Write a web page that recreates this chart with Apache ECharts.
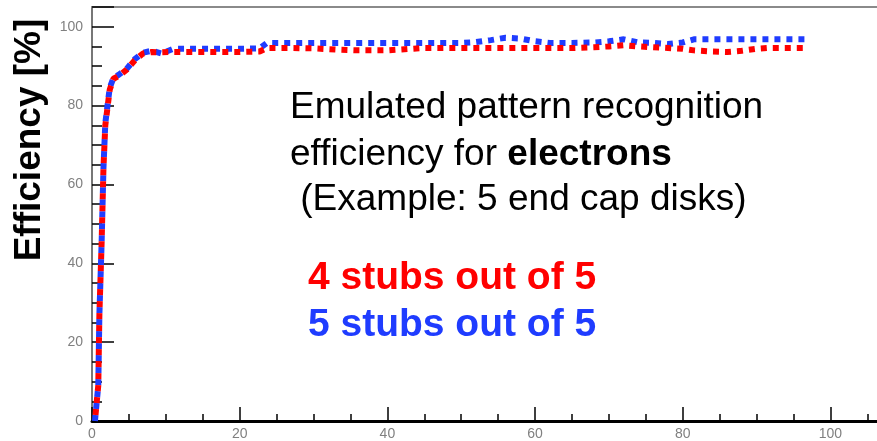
<!DOCTYPE html>
<html>
<head>
<meta charset="utf-8">
<script src="https://cdn.jsdelivr.net/npm/echarts@6/dist/echarts.min.js"></script>
<style>
  html, body { margin: 0; padding: 0; background: #fff; }
  #chart { width: 877px; height: 441px; }
</style>
</head>
<body>
<div id="chart"></div>
<script>
// Efficiency vs. x, sampled at these positions
const xValues = [0.4, 0.85, 1.0, 1.3, 1.55, 1.8, 2.4, 2.9, 3.6, 4.7, 5.8, 6.9, 8.1, 9.4, 11, 15, 20, 22.7, 23.7, 27,
  30, 33, 36, 40, 45, 50, 52, 54, 56, 58, 60, 62, 65, 68, 70, 72, 74, 76, 78, 80,
  81.5, 84, 86, 88, 90, 91.5, 94, 97];

// 4 stubs out of 5 (red)
const eff4of5 = [0, 9, 27, 45, 64, 75, 84, 86.8, 87.5, 89.1, 91.5, 93.2, 93.6, 93.5, 93.6, 93.6, 93.6, 93.7, 94.6, 94.6,
  94.5, 94.2, 94.0, 94.0, 94.6, 94.6, 94.6, 94.6, 94.6, 94.6, 94.6, 94.6, 94.6, 94.8, 95.0, 95.3, 95.0, 94.8, 94.6, 94.4,
  94.0, 93.7, 93.6, 93.9, 94.4, 94.6, 94.6, 94.6];

// 5 stubs out of 5 (blue)
const eff5of5 = [0, 9, 27, 45, 64, 75.5, 84.5, 87, 87.8, 89.3, 91.8, 93.4, 93.9, 93.2, 94.4, 94.4, 94.4, 94.5, 95.9, 95.9,
  95.9, 95.9, 95.9, 95.9, 95.9, 95.9, 96.1, 96.6, 97.2, 97.0, 96.3, 95.9, 95.9, 96.0, 96.3, 96.8, 96.0, 95.9, 95.6, 96.0,
  96.8, 96.8, 96.8, 96.8, 96.8, 96.8, 96.8, 96.8];

// Tick positions
const xMajorTicks = [0, 20, 40, 60, 80, 100];
const xMinorTicks = [0, 5, 10, 15, 20, 25, 30, 35, 40, 45, 50, 55, 60, 65, 70, 75, 80, 85, 90, 95, 100, 105];
const yMajorTicks = [0, 20, 40, 60, 80, 100, 105];
const yMajorLabels = [0, 20, 40, 60, 80, 100];
const yMinorTicks = [0, 5, 10, 15, 20, 25, 30, 35, 40, 45, 50, 55, 60, 65, 70, 75, 80, 85, 90, 95, 100];

const X_MAX = 106.3;
const Y_MAX = 105;

const FONT = "'Liberation Sans', Arial, sans-serif";
const RED = '#ff0000';
const BLUE = '#1f3cff';

const pairs = (xs, ys) => xs.map((x, i) => [x, ys[i]]);

const chart = echarts.init(document.getElementById('chart'), null, { renderer: 'canvas' });

const majorX = {
  type: 'value', min: 0, max: X_MAX, position: 'bottom',
  axisLine: { show: true, onZero: false, lineStyle: { color: '#000', width: 3 } },
  axisTick: { show: true, inside: true, length: 14, customValues: xMajorTicks, lineStyle: { color: '#000', width: 1.5 } },
  axisLabel: { show: true, customValues: xMajorTicks, color: '#808080', fontSize: 14, fontFamily: FONT, margin: 6 },
  splitLine: { show: false }
};
const minorX = {
  type: 'value', min: 0, max: X_MAX, position: 'bottom',
  axisLine: { show: false, onZero: false },
  axisTick: { show: true, inside: true, length: 7, customValues: xMinorTicks, lineStyle: { color: '#000', width: 1.5 } },
  axisLabel: { show: false },
  splitLine: { show: false }
};
const frameTop = {
  type: 'value', min: 0, max: X_MAX, position: 'top',
  axisLine: { show: true, onZero: false, lineStyle: { color: '#8a8a8a', width: 2 } },
  axisTick: { show: false }, axisLabel: { show: false }, splitLine: { show: false }
};

const majorY = {
  type: 'value', min: 0, max: Y_MAX, position: 'left',
  axisLine: { show: true, onZero: false, lineStyle: { color: '#777', width: 2 } },
  axisTick: { show: true, inside: true, length: 22, customValues: yMajorTicks, lineStyle: { color: '#000', width: 1.5 } },
  axisLabel: { show: true, customValues: yMajorLabels, color: '#808080', fontSize: 14, fontFamily: FONT, margin: 9 },
  splitLine: { show: false }
};
const minorY = {
  type: 'value', min: 0, max: Y_MAX, position: 'left',
  axisLine: { show: false, onZero: false },
  axisTick: { show: true, inside: true, length: 10, customValues: yMinorTicks, lineStyle: { color: '#000', width: 1.5 } },
  axisLabel: { show: false },
  splitLine: { show: false }
};

const option = {
  animation: false,
  backgroundColor: '#fff',
  grid: { left: 92, top: 7, bottom: 19, right: 0, containLabel: false },
  xAxis: [majorX, minorX, frameTop],
  yAxis: [majorY, minorY],
  series: [
    {
      name: '5 stubs out of 5', type: 'line', xAxisIndex: 0, yAxisIndex: 0,
      data: pairs(xValues, eff5of5), showSymbol: false, z: 3,
      lineStyle: { color: BLUE, width: 6, type: [6, 6], cap: 'butt' }
    },
    {
      name: '4 stubs out of 5', type: 'line', xAxisIndex: 0, yAxisIndex: 0,
      data: pairs(xValues, eff4of5), showSymbol: false, z: 4,
      lineStyle: { color: RED, width: 6, type: [6, 6], dashOffset: 6, cap: 'butt' }
    }
  ],
  graphic: [
    {
      type: 'text', x: 30, y: 140, rotation: Math.PI / 2,
      style: { text: 'Efficiency [%]', font: `bold 37px ${FONT}`, fill: '#000', align: 'center', verticalAlign: 'middle' }
    },
    {
      type: 'text', x: 290, y: 108,
      style: { text: 'Emulated pattern recognition', font: `37px ${FONT}`, fill: '#000', align: 'left', verticalAlign: 'middle' }
    },
    {
      type: 'text', x: 290, y: 155,
      style: {
        text: 'efficiency for {b|electrons}', font: `37px ${FONT}`, fill: '#000', align: 'left', verticalAlign: 'middle',
        rich: { b: { font: `bold 37px ${FONT}`, fill: '#000' } }
      }
    },
    {
      type: 'text', x: 290, y: 200,
      style: { text: ' (Example: 5 end cap disks)', font: `37px ${FONT}`, fill: '#000', align: 'left', verticalAlign: 'middle' }
    },
    {
      type: 'text', x: 308, y: 278,
      style: { text: '4 stubs out of 5', font: `bold 39px ${FONT}`, fill: RED, align: 'left', verticalAlign: 'middle' }
    },
    {
      type: 'text', x: 308, y: 325,
      style: { text: '5 stubs out of 5', font: `bold 39px ${FONT}`, fill: BLUE, align: 'left', verticalAlign: 'middle' }
    }
  ]
};

chart.setOption(option);
</script>
</body>
</html>
